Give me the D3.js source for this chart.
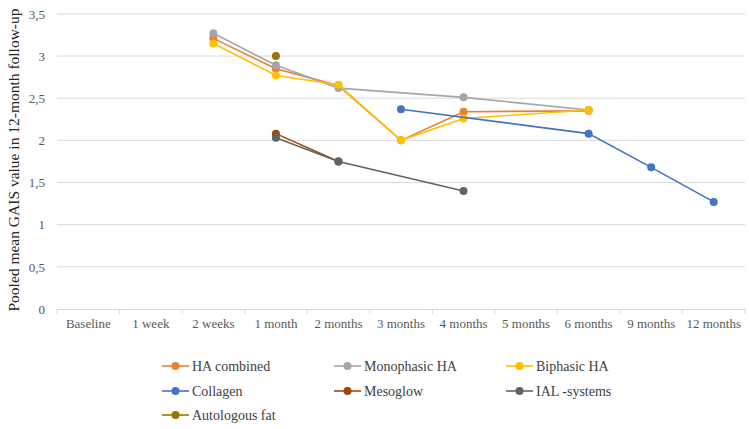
<!DOCTYPE html>
<html><head><meta charset="utf-8">
<script src="https://cdn.jsdelivr.net/npm/d3@7"></script>
<style>body{margin:0;background:#fff}svg{display:block}svg text{font-family:"Liberation Serif","Times New Roman",serif !important}</style>
</head><body><svg id="c" width="749" height="429"></svg>
<script>
const categories = ["Baseline","1 week","2 weeks","1 month","2 months","3 months","4 months","5 months","6 months","9 months","12 months"];
const yTicks = [0,0.5,1,1.5,2,2.5,3,3.5];
const seriesNames = ["HA combined","Monophasic HA","Biphasic HA","Collagen","Mesoglow","IAL -systems","Autologous fat"];
const colors = ["#ED7D31","#A5A5A5","#FFC000","#4472C4","#9E480E","#636363","#997300"];
// values per category (null = missing)
const haCombined  = [null,null,3.21,2.85,2.65,2.00,2.34,null,2.35,null,null];
const monophasic  = [null,null,3.27,2.89,2.62,null,2.51,null,2.36,null,null];
const biphasic    = [null,null,3.15,2.77,2.66,2.00,2.26,null,2.36,null,null];
const collagen    = [null,null,null,null,null,2.37,null,null,2.08,1.68,1.27];
const mesoglow    = [null,null,null,2.08,1.75,null,null,null,null,null,null];
const ialSystems  = [null,null,null,2.03,1.75,null,1.40,null,null,null,null];
const autologous  = [null,null,null,3.00,null,null,null,null,null,null,null];
const seriesValues = [haCombined,monophasic,biphasic,collagen,mesoglow,ialSystems,autologous];

const svg = d3.select("#c");
const font = "Liberation Serif";
const x = d3.scaleBand().domain(categories).range([57,745]).padding(0);
const y = d3.scaleLinear().domain([0,3.5]).range([309,13.9]);

// gridlines
svg.append("g").selectAll("line").data(yTicks.slice(1)).join("line")
  .attr("x1",57).attr("x2",745).attr("y1",d=>y(d)).attr("y2",d=>y(d))
  .attr("stroke","#d9d9d9").attr("stroke-width",1);

// y axis labels
const yAxis = d3.axisLeft(y).tickValues(yTicks).tickSize(0).tickPadding(12)
  .tickFormat(d=>String(d).replace(".",","));
const gy = svg.append("g").attr("transform","translate(57,0)").call(yAxis);
gy.attr("font-family",font);
gy.select(".domain").remove();
gy.selectAll("text").attr("font-size",13).attr("fill","#595959");

// x axis
const xAxis = d3.axisBottom(x).tickSize(0).tickPadding(10);
const gx = svg.append("g").attr("transform","translate(0,309)").call(xAxis);
gx.attr("font-family",font);
gx.select(".domain").attr("stroke","#d9d9d9");
gx.selectAll("text").attr("font-size",13).attr("fill","#595959");
// category boundary ticks
svg.append("g").selectAll("line").data(categories.concat(["__end"])).join("line")
  .attr("x1",(d,i)=>57+i*x.bandwidth()).attr("x2",(d,i)=>57+i*x.bandwidth())
  .attr("y1",309).attr("y2",314).attr("stroke","#d9d9d9");

// y axis title
svg.append("text").attr("transform","translate(19,160) rotate(-90)")
  .attr("text-anchor","middle").attr("font-size",15.5).attr("fill","#262626")
  .text("Pooled mean GAIS value in 12-month follow-up");

const cx = c => x(c)+x.bandwidth()/2;
const line = d3.line().x(d=>cx(d.c)).y(d=>y(d.v));
seriesValues.forEach((vals,i)=>{
  const pts = vals.map((v,j)=>({c:categories[j],v})).filter(d=>d.v!==null);
  const g = svg.append("g");
  if(pts.length>1) g.append("path").datum(pts).attr("d",line).attr("fill","none")
    .attr("stroke",colors[i]).attr("stroke-width",1.6);
  g.selectAll("circle").data(pts).join("circle")
    .attr("cx",d=>cx(d.c)).attr("cy",d=>y(d.v)).attr("r",4).attr("fill",colors[i]);
});

// legend
const legX = [162,334,506], legY = [366,391,415];
seriesNames.forEach((n,i)=>{
  const lx = legX[i%3], ly = legY[Math.floor(i/3)];
  const g = svg.append("g");
  g.append("line").attr("x1",lx).attr("x2",lx+27).attr("y1",ly).attr("y2",ly)
    .attr("stroke",colors[i]).attr("stroke-width",1.6);
  g.append("circle").attr("cx",lx+13.5).attr("cy",ly).attr("r",4).attr("fill",colors[i]);
  g.append("text").attr("x",lx+30).attr("y",ly).attr("dy","0.35em")
    .attr("font-size",14).attr("fill","#404040").text(n);
});
</script></body></html>
